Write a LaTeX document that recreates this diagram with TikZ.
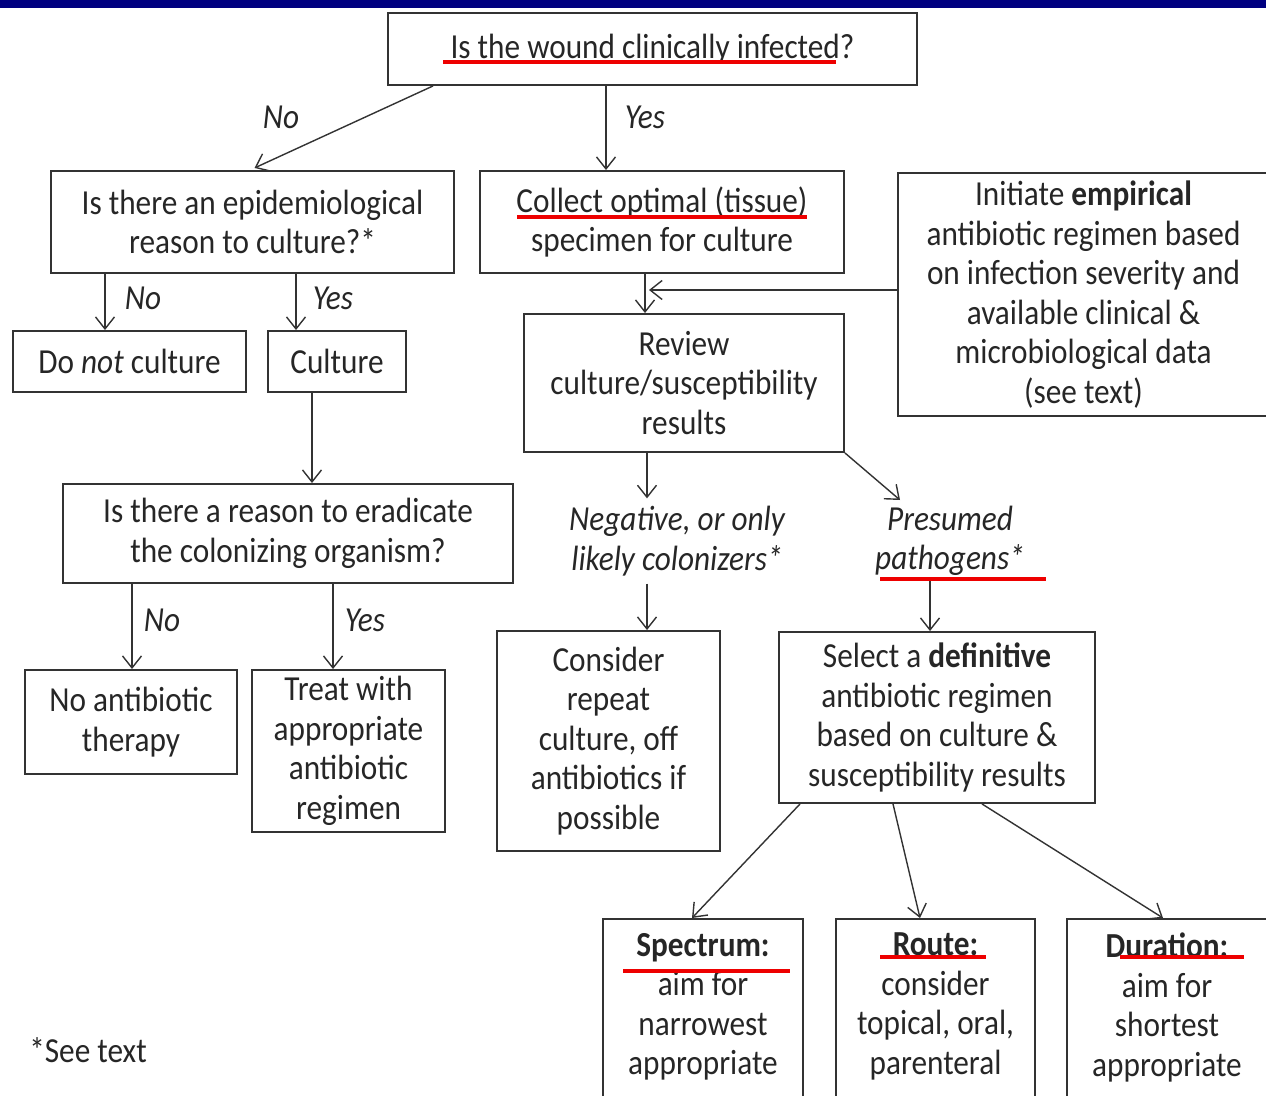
\documentclass[tikz,border=0pt]{standalone}
\usepackage{fontspec}
\setmainfont{Carlito}[FakeStretch=0.89]
\usetikzlibrary{arrows.meta}
\definecolor{BarBlue}{RGB}{0,0,128}
\definecolor{MarkRed}{RGB}{238,0,0}
\tikzset{
	>={Straight Barb[length=2.4mm,width=3.8mm]},
	box/.style={draw=black!80, line width=1.1pt, align=center, inner sep=0pt,
		font=\fontsize{20}{22.5}\selectfont, text=black!85},
	lbl/.style={align=center, inner sep=0pt, font=\fontsize{20}{22.5}\selectfont\itshape, text=black!85},
	link/.style={black!80, line width=0.8pt, ->},
	uline/.style={MarkRed, line width=2.8pt},
}

\begin{document}
\begin{tikzpicture}[x=0.02cm, y=-0.02cm]
	\useasboundingbox (0,0) rectangle (1266,1095);
	\clip (0,0) rectangle (1266,1095);
	
	% Top bar
	\fill[BarBlue] (0,0) rectangle (1266,8);
	
	% Question boxes
	\node[box, minimum width=10.58cm, minimum height=1.44cm] (infected) at (652.5,49) {Is the wound clinically infected?};
	\node[box, minimum width=8.06cm, minimum height=2.04cm] (epi) at (252.5,222) {Is there an epidemiological\\reason to culture?*};
	\node[box, minimum width=7.28cm, minimum height=2.04cm] (collect) at (662,222) {Collect optimal (tissue)\\specimen for culture};
	\node[box, minimum width=7.42cm, minimum height=4.86cm] (empiric) at (1083.5,294.5) {Initiate \textbf{empirical}\\antibiotic regimen based\\on infection severity and\\available clinical \&\\microbiological data\\(see text)};
	
	% Left branch
	\node[box, minimum width=4.66cm, minimum height=1.22cm] (noculture) at (129.5,361.5) {Do \textit{not} culture};
	\node[box, minimum width=2.76cm, minimum height=1.22cm] (culture) at (337,361.5) {Culture};
	\node[box, minimum width=9cm, minimum height=1.98cm] (eradicate) at (288,533.5) {Is there a reason to eradicate\\the colonizing organism?};
	\node[box, minimum width=4.24cm, minimum height=2.08cm] (noabx) at (131,722) {No antibiotic\\therapy};
	\node[box, minimum width=3.86cm, minimum height=3.24cm] (treat) at (348.5,751) {Treat with\\appropriate\\antibiotic\\regimen};
	
	% Right branch
	\node[box, minimum width=6.4cm, minimum height=2.76cm] (review) at (684,383) {Review\\culture/susceptibility\\results};
	\node[lbl] (negative) at (677,541) {Negative, or only\\likely colonizers*};
	\node[lbl] (presumed) at (950,541) {Presumed\\pathogens*};
	\node[box, minimum width=4.46cm, minimum height=4.4cm] (consider) at (608.5,741) {Consider\\repeat\\culture, off\\antibiotics if\\possible};
	\node[box, minimum width=6.32cm, minimum height=3.42cm] (definitive) at (937,717.5) {Select a \textbf{definitive}\\antibiotic regimen\\based on culture \&\\susceptibility results};
	
	% Bottom boxes (cut off by the page edge)
	\node[box, anchor=north, minimum width=4cm, minimum height=4.4cm] (spectrum) at (703,918) {};
	\node[box, draw=none, anchor=north] (spectrumtext) at ([yshift=-0.28cm]spectrum.north) {\textbf{Spectrum:}\\aim for\\narrowest\\appropriate};
	\node[box, anchor=north, minimum width=3.98cm, minimum height=4.4cm] (route) at (935.5,918) {};
	\node[box, draw=none, anchor=north] (routetext) at ([yshift=-0.28cm]route.north) {\textbf{Route:}\\consider\\topical, oral,\\parenteral};
	\node[box, anchor=north, minimum width=4cm, minimum height=4.4cm] (duration) at (1167,918) {};
	\node[box, draw=none, anchor=north] (durationtext) at ([yshift=-0.28cm]duration.north) {\textbf{Duration:}\\aim for\\shortest\\appropriate};
	
	% Branch labels
	\node[lbl] (no1) at (281,117) {No};
	\node[lbl] (yes1) at (645,117) {Yes};
	\node[lbl] (no2) at (143,298) {No};
	\node[lbl] (yes2) at (333,298) {Yes};
	\node[lbl] (no3) at (162,620) {No};
	\node[lbl] (yes3) at (365,620) {Yes};
	\node[box, draw=none] (seetext) at (88,1050) {*See text};
	
	% Arrows
	\draw[link, shorten >=0.1cm] (infected.south -| 433,0) -- (epi.north -| 250,0);
	\draw[link] (infected.south -| 606,0) -- (collect.north -| 606,0);
	\draw[link] (epi.south -| 105,0) -- (noculture.north -| 105,0);
	\draw[link] (epi.south -| 296,0) -- (culture.north -| 296,0);
	\draw[link] (culture.south -| 312,0) -- (eradicate.north -| 312,0);
	\draw[link] (eradicate.south -| 132,0) -- (noabx.north -| 132,0);
	\draw[link] (eradicate.south -| 333,0) -- (treat.north -| 333,0);
	\draw[link] (collect.south -| 645,0) -- (review.north -| 645,0);
	\coordinate (merge) at (649,290);
	\draw[link] (empiric.west |- merge) -- (merge);
	\draw[link, shorten >=0.15cm] (review.south -| 647,0) -- (negative.north -| 647,0);
	\draw[link] (review.south east) -- (900,500);
	\draw[link, shorten <=0.15cm] (negative.south -| 647,0) -- (consider.north -| 647,0);
	\draw[link, shorten <=0.1cm] (presumed.south -| 930,0) -- (definitive.north -| 930,0);
	\draw[link] (definitive.south -| 800,0) -- (spectrum.north -| 692,0);
	\draw[link] (definitive.south -| 893,0) -- (route.north -| 920,0);
	\draw[link] (definitive.south -| 982,0) -- (duration.north -| 1163,0);
	
	% Red underlines
	\draw[uline] (443,62) -- (836,62);
	\draw[uline] (517,217) -- (807,217);
	\draw[uline] (880,579) -- (1046,579);
	\draw[uline] (623,971) -- (790,971);
	\draw[uline] (880,957) -- (986,957);
	\draw[uline] (1120,957) -- (1244,957);
	
\end{tikzpicture}
\end{document}
